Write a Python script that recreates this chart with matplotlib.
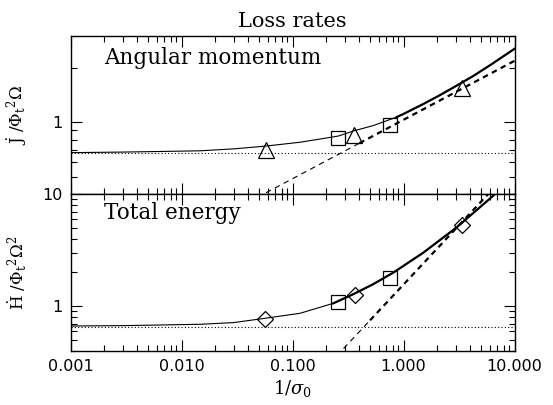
import numpy as np
import matplotlib
matplotlib.use('Agg')
from matplotlib import pyplot as plt
from matplotlib.ticker import NullFormatter, LogLocator

# 読み取った値
x_j = [0.001, 0.003, 0.0147, 0.03, 0.0574, 0.117, 0.258, 0.358, 0.535, 0.868, 1.0, 1.51, 2.13, 3.01, 4.26, 6.01, 10.0]
j_curve = [0.679, 0.684, 0.695, 0.713, 0.738, 0.775, 0.838, 0.896, 0.958, 1.067, 1.11, 1.26, 1.41, 1.59, 1.80, 2.06, 2.54]
x_j_dash = [0.04, 0.4, 10.0]
j_dash = [0.362, 0.765, 2.18]
j_floor = 0.672

x_h = [0.001, 0.003, 0.0147, 0.0293, 0.057, 0.117, 0.233, 0.353, 0.535, 0.809, 1.51, 3.01, 6.01, 7.0]
h_curve = [0.665, 0.670, 0.689, 0.713, 0.78, 0.864, 1.06, 1.28, 1.575, 1.995, 3.01, 5.06, 9.16, 10.5]
x_h_dash = [0.25, 0.5, 6.2]
h_dash = [0.36, 0.748, 10.8]
h_floor = 0.656

x_sq = [0.258, 0.748]
j_sq = [0.822, 0.969]
h_sq = [1.09, 1.80]
x_tri = [0.0574, 0.358, 3.37]
j_tri = [0.698, 0.848, 1.54]
x_dia = [0.057, 0.366, 3.37]
h_dia = [0.766, 1.25, 5.28]

xticks = [0.001, 0.01, 0.1, 1.0, 10.0]
xticklabels = ['0.001', '0.010', '0.100', '1.000', '10.000']

plt.rcParams['mathtext.fontset'] = 'dejavuserif'
serif = 'DejaVu Serif'

fig = plt.figure(figsize=(5.53, 4.05), dpi=100)
L, W = 70.5 / 553, 444 / 553
ax1 = fig.add_axes([L, 1 - 194.3 / 405, W, 158.6 / 405])
ax2 = fig.add_axes([L, 1 - 350.7 / 405, W, 156.4 / 405])


def style(ax, ylim, yticks, ylabs):
    ax.set_xscale('log')
    ax.set_yscale('log')
    ax.set_xlim(0.001, 10)
    ax.set_ylim(*ylim)
    ax.set_xticks(xticks, xticklabels)
    ax.set_yticks(yticks, ylabs)
    ax.xaxis.set_minor_locator(LogLocator(base=10, subs=np.arange(2, 10)))
    ax.yaxis.set_minor_locator(LogLocator(base=10, subs=np.arange(2, 10)))
    ax.xaxis.set_minor_formatter(NullFormatter())
    ax.yaxis.set_minor_formatter(NullFormatter())
    ax.tick_params(which='both', direction='in', top=True, right=True, width=0.8,
                   labelsize=11.5, pad=6)
    ax.tick_params(which='major', length=8)
    ax.tick_params(which='minor', length=4)
    for s in ax.spines.values():
        s.set_linewidth(1.0)


style(ax1, (0.4, 3), [1], ['1'])
style(ax2, (0.4, 10), [1, 10], ['1', '10'])
ax1.tick_params(labelbottom=False)

mk = dict(mfc='none', mec='black', mew=0.9, ls='none')

# 上段
ax1.plot(x_j, j_curve, color='black', lw=0.8)
ax1.plot(x_j[9:], j_curve[9:], color='black', lw=1.6)
ax1.plot(x_j_dash[:2], j_dash[:2], color='black', lw=0.8, ls=(0, (5, 4)))
ax1.plot(x_j_dash[1:], j_dash[1:], color='black', lw=1.6, ls=(0, (2.5, 2)))
ax1.axhline(j_floor, color='black', lw=0.8, ls=(0, (1, 2)))
ax1.plot(x_sq, j_sq, marker='s', ms=10, **mk)
ax1.plot(x_tri, j_tri, marker='^', ms=11, **mk)
ax1.text(0.075, 0.86, 'Angular momentum', transform=ax1.transAxes,
         fontsize=15.5, family=serif, va='center')
ax1.set_title('Loss rates', fontsize=15, family=serif, pad=6)
ax1.set_ylabel(r'$\dot{\mathrm{J}}\ /\Phi_{\mathrm{t}}{}^2\Omega$', fontsize=12)
ax1.yaxis.set_label_coords(-0.093, 0.5)

# 下段
ax2.plot(x_h, h_curve, color='black', lw=0.8)
ax2.plot(x_h[6:], h_curve[6:], color='black', lw=1.6)
ax2.plot(x_h_dash[:2], h_dash[:2], color='black', lw=0.8, ls=(0, (5, 4)))
ax2.plot(x_h_dash[1:], h_dash[1:], color='black', lw=1.6, ls=(0, (2.5, 2)))
ax2.axhline(h_floor, color='black', lw=0.8, ls=(0, (1, 2)))
ax2.plot(x_sq, h_sq, marker='s', ms=10, **mk)
ax2.plot(x_dia, h_dia, marker='D', ms=8.5, **mk)
ax2.text(0.075, 0.88, 'Total energy', transform=ax2.transAxes,
         fontsize=15.5, family=serif, va='center')
ax2.set_ylabel(r'$\dot{\mathrm{H}}\ /\Phi_{\mathrm{t}}{}^2\Omega^2$', fontsize=12)
ax2.yaxis.set_label_coords(-0.093, 0.5)
ax2.set_xlabel(r'$1/\sigma_0$', fontsize=13, labelpad=3)

plt.savefig('out.png', dpi=100)
